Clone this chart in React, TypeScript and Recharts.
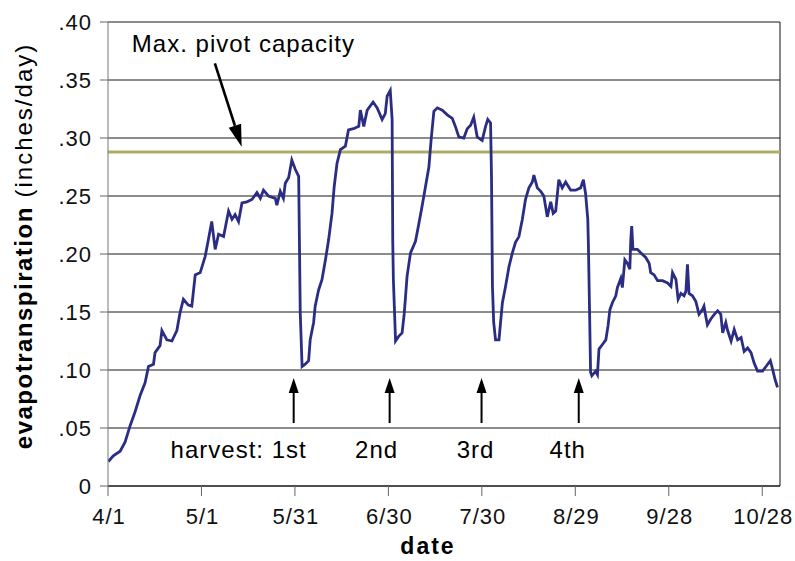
import React from "react";
import {
  CartesianGrid,
  Label,
  Line,
  LineChart,
  ReferenceLine,
  XAxis,
  YAxis,
} from "recharts";

// [day since 4/1, evapotranspiration in/day] per cutting cycle
const cycle1: [number, number][] = [
  [0.1, 0.021], [1.7, 0.026], [3.9, 0.03], [5.5, 0.038], [7.1, 0.052],
  [8.7, 0.064], [10.3, 0.078], [11.9, 0.089], [13.0, 0.103], [14.6, 0.105],
  [15.1, 0.115], [16.7, 0.121], [17.3, 0.134], [18.9, 0.126], [20.5, 0.125],
  [22.1, 0.134], [23.1, 0.149], [24.2, 0.161], [25.8, 0.156], [26.9, 0.155],
  [28.0, 0.182], [29.6, 0.184], [31.2, 0.198], [32.2, 0.212], [33.3, 0.228],
  [34.4, 0.204], [35.5, 0.217], [37.1, 0.215], [38.7, 0.237], [39.8, 0.23],
  [40.8, 0.234], [41.9, 0.228], [43.0, 0.244], [44.6, 0.245], [46.2, 0.247],
  [47.8, 0.253], [48.9, 0.248], [49.9, 0.255], [51.5, 0.25], [53.7, 0.248],
  [54.2, 0.242], [55.3, 0.254], [56.3, 0.248], [56.9, 0.261], [58.0, 0.266],
  [59.0, 0.281], [60.1, 0.273], [61.2, 0.267], [61.5, 0.198], [61.7, 0.15],
  [62.3, 0.103],
];

const cycle2: [number, number][] = [
  [63.3, 0.105], [64.4, 0.108], [64.9, 0.126], [66.0, 0.141], [66.5, 0.155],
  [67.6, 0.169], [68.7, 0.178], [69.8, 0.195], [70.8, 0.212], [71.9, 0.235],
  [72.6, 0.258], [73.5, 0.278], [74.6, 0.29], [76.2, 0.293], [77.2, 0.307],
  [78.8, 0.308], [80.5, 0.31], [81.0, 0.324], [82.1, 0.31], [83.2, 0.324],
  [85.1, 0.331], [86.4, 0.326], [88.0, 0.316], [89.0, 0.321], [89.6, 0.336],
  [90.6, 0.341], [91.2, 0.316], [91.4, 0.211], [91.6, 0.178], [92.3, 0.125],
];

const cycle3: [number, number][] = [
  [93.3, 0.129], [94.4, 0.132], [95.1, 0.149], [96.0, 0.181], [97.1, 0.201],
  [98.7, 0.211], [99.7, 0.225], [100.8, 0.241], [101.9, 0.258], [103.0, 0.275],
  [103.7, 0.298], [104.6, 0.323], [105.7, 0.326], [107.3, 0.324], [108.9, 0.32],
  [110.5, 0.317], [111.5, 0.31], [112.6, 0.301], [114.2, 0.3], [115.3, 0.308],
  [116.4, 0.311], [117.4, 0.318], [118.5, 0.301], [120.1, 0.298], [121.2, 0.31],
  [121.9, 0.316], [122.8, 0.313], [123.1, 0.266], [123.4, 0.172], [123.8, 0.141],
  [124.4, 0.126],
];

const cycle4: [number, number][] = [
  [125.5, 0.126], [126.0, 0.141], [126.6, 0.158], [127.6, 0.172], [128.7, 0.189],
  [129.8, 0.201], [130.8, 0.21], [131.9, 0.215], [133.0, 0.23], [134.0, 0.247],
  [135.1, 0.257], [136.2, 0.262], [136.7, 0.268], [137.8, 0.257], [138.9, 0.254],
  [139.9, 0.25], [141.0, 0.232], [142.1, 0.245], [142.9, 0.235], [143.7, 0.237],
  [144.7, 0.264], [145.8, 0.257], [146.9, 0.262], [148.5, 0.255], [150.1, 0.255],
  [151.7, 0.257], [152.6, 0.264], [153.3, 0.252], [154.0, 0.23], [154.2, 0.208],
  [154.6, 0.146], [154.9, 0.098], [155.3, 0.095],
];

const cycle5: [number, number][] = [
  [156.5, 0.099], [157.1, 0.096], [157.6, 0.118], [158.7, 0.122], [159.8, 0.126],
  [160.5, 0.138], [161.1, 0.152], [161.9, 0.158], [163.0, 0.164], [163.5, 0.171],
  [164.6, 0.179], [165.1, 0.171], [165.9, 0.195], [166.7, 0.192], [167.5, 0.187],
  [167.8, 0.212], [168.1, 0.224], [168.5, 0.204], [169.9, 0.204], [171.0, 0.201],
  [172.6, 0.197], [173.7, 0.192], [174.2, 0.184], [175.3, 0.182], [176.4, 0.177],
  [178.0, 0.177], [179.6, 0.175], [180.7, 0.172], [181.2, 0.184], [182.3, 0.178],
  [183.0, 0.161], [183.9, 0.166], [184.9, 0.164], [185.5, 0.168], [186.0, 0.191],
  [186.5, 0.166], [187.6, 0.164], [188.7, 0.159], [189.7, 0.148], [190.8, 0.152],
  [191.3, 0.155], [191.9, 0.146], [192.4, 0.139], [193.5, 0.144], [194.6, 0.148],
  [195.7, 0.151], [196.7, 0.148], [197.3, 0.132], [198.3, 0.141], [198.9, 0.134],
  [200.0, 0.125], [201.0, 0.135], [202.1, 0.126], [203.2, 0.128], [204.2, 0.116],
  [205.3, 0.119], [206.4, 0.115], [207.4, 0.106], [208.5, 0.099], [210.1, 0.099],
  [211.2, 0.103], [212.6, 0.108], [213.3, 0.101], [214.1, 0.092], [214.9, 0.085],
];

const xTicks = [0, 30, 60, 90, 120, 150, 180, 210];
const xTickLabels = ["4/1", "5/1", "5/31", "6/30", "7/30", "8/29", "9/28", "10/28"];
const yTicks = [0, 0.05, 0.1, 0.15, 0.2, 0.25, 0.3, 0.35, 0.4];
const yTickLabels = ["0", ".05", ".10", ".15", ".20", ".25", ".30", ".35", ".40"];

const pivotCapacity = 0.288;
const harvestDays = [59.6, 90.4, 119.9, 151.1];
const harvestLabels = ["harvest: 1st", "2nd", "3rd", "4th"];

const rows = [...cycle1, ...cycle2, ...cycle3, ...cycle4, ...cycle5].map(
  ([day, et]) => ({ day, et })
);

const FONT = "'Liberation Sans', Arial, Helvetica, sans-serif";
const INK = "#111";

// text placement next to each harvest arrow (anchor, dx from arrow)
const harvestText: { anchor: "end" | "middle"; dx: number }[] = [
  { anchor: "end", dx: 13 },
  { anchor: "middle", dx: -13 },
  { anchor: "middle", dx: -6 },
  { anchor: "middle", dx: -11 },
];

function arrowHead(x1: number, y1: number, x2: number, y2: number, len: number, half: number) {
  const dx = x2 - x1;
  const dy = y2 - y1;
  const d = Math.hypot(dx, dy) || 1;
  const ux = dx / d;
  const uy = dy / d;
  const bx = x2 - ux * len;
  const by = y2 - uy * len;
  return {
    base: [bx, by],
    points: `${x2},${y2} ${bx - uy * half},${by + ux * half} ${bx + uy * half},${by - ux * half}`,
  };
}

function Arrow(props: any) {
  const { x1, y1, x2, y2, len, half, width, children } = props;
  const h = arrowHead(x1, y1, x2, y2, len, half);
  return (
    <g>
      <line x1={x1} y1={y1} x2={h.base[0]} y2={h.base[1]} stroke="#000" strokeWidth={width} />
      <polygon points={h.points} fill="#000" />
      {children}
    </g>
  );
}

function YTick(props: any) {
  const { y, payload } = props;
  const i = yTicks.indexOf(payload.value);
  return (
    <text x={92} y={y} dy="0.36em" textAnchor="end" fontFamily={FONT} fontSize={22}
      letterSpacing={1} fill={INK}>
      {yTickLabels[i] ?? payload.value}
    </text>
  );
}

function XTick(props: any) {
  const { x, payload } = props;
  const i = xTicks.indexOf(payload.value);
  return (
    <text x={x + 1} y={524} textAnchor="middle" fontFamily={FONT} fontSize={22}
      letterSpacing={1} fill={INK}>
      {xTickLabels[i] ?? payload.value}
    </text>
  );
}

export default function App() {
  return (
    <div style={{ position: "absolute", left: 0, top: 0, background: "#fff" }}>
      <LineChart
        width={795}
        height={561}
        data={rows}
        margin={{ top: 22, right: 15, bottom: 0, left: 0 }}
      >
        <CartesianGrid horizontal vertical={false} stroke="#1a1a1a" strokeWidth={1} />
        <XAxis
          dataKey="day"
          type="number"
          domain={[0, 215.7]}
          ticks={xTicks}
          allowDataOverflow
          height={75}
          tickSize={10}
          axisLine={{ stroke: "#111" }}
          tickLine={{ stroke: "#666" }}
          tick={<XTick />}
        >
          <Label
            content={() => (
              <text x={428} y={554} textAnchor="middle" fontFamily={FONT} fontSize={23}
                fontWeight="bold" letterSpacing={2} fill="#000">
                date
              </text>
            )}
          />
        </XAxis>
        <YAxis
          type="number"
          domain={[0, 0.4]}
          ticks={yTicks}
          width={108}
          tickSize={8}
          axisLine={{ stroke: "#777" }}
          tickLine={{ stroke: "#666" }}
          tick={<YTick />}
        >
          <Label
            content={() => (
              <text x={32} y={246} transform="rotate(-90 32 246)" textAnchor="middle"
                fontFamily={FONT} fontSize={24} fill="#000">
                <tspan fontWeight="bold" letterSpacing={1.5}>evapotranspiration</tspan>
                <tspan letterSpacing={2}>{"  (inches/day)"}</tspan>
              </text>
            )}
          />
        </YAxis>
        <ReferenceLine x={215.7} stroke="#111" strokeWidth={1} ifOverflow="visible" />
        <ReferenceLine y={pivotCapacity} stroke="#aead68" strokeWidth={3} />
        <Line
          dataKey="et"
          type="linear"
          stroke="#2b2d84"
          strokeWidth={2.8}
          dot={false}
          isAnimationActive={false}
        />
        <ReferenceLine
          segment={[{ x: 34.3, y: 0.3644 }, { x: 42.9, y: 0.2925 }]}
          ifOverflow="visible"
          shape={(p: any) => (
            <Arrow x1={p.x1} y1={p.y1} x2={p.x2} y2={p.y2} len={22} half={6.5} width={2.6}>
              <text x={p.x1 - 83} y={p.y1 - 11} fontFamily={FONT} fontSize={24}
                letterSpacing={1} fill="#000">
                Max. pivot capacity
              </text>
            </Arrow>
          )}
        />
        {harvestDays.map((d, i) => (
          <ReferenceLine
            key={d}
            segment={[{ x: d, y: 0.0543 }, { x: d, y: 0.0931 }]}
            ifOverflow="visible"
            shape={(p: any) => (
              <Arrow x1={p.x1} y1={p.y1} x2={p.x2} y2={p.y2} len={15} half={5} width={2}>
                <text x={p.x1 + harvestText[i].dx} y={p.y1 + 35}
                  textAnchor={harvestText[i].anchor} fontFamily={FONT} fontSize={24}
                  letterSpacing={1} fill="#000">
                  {harvestLabels[i]}
                </text>
              </Arrow>
            )}
          />
        ))}
      </LineChart>
    </div>
  );
}
